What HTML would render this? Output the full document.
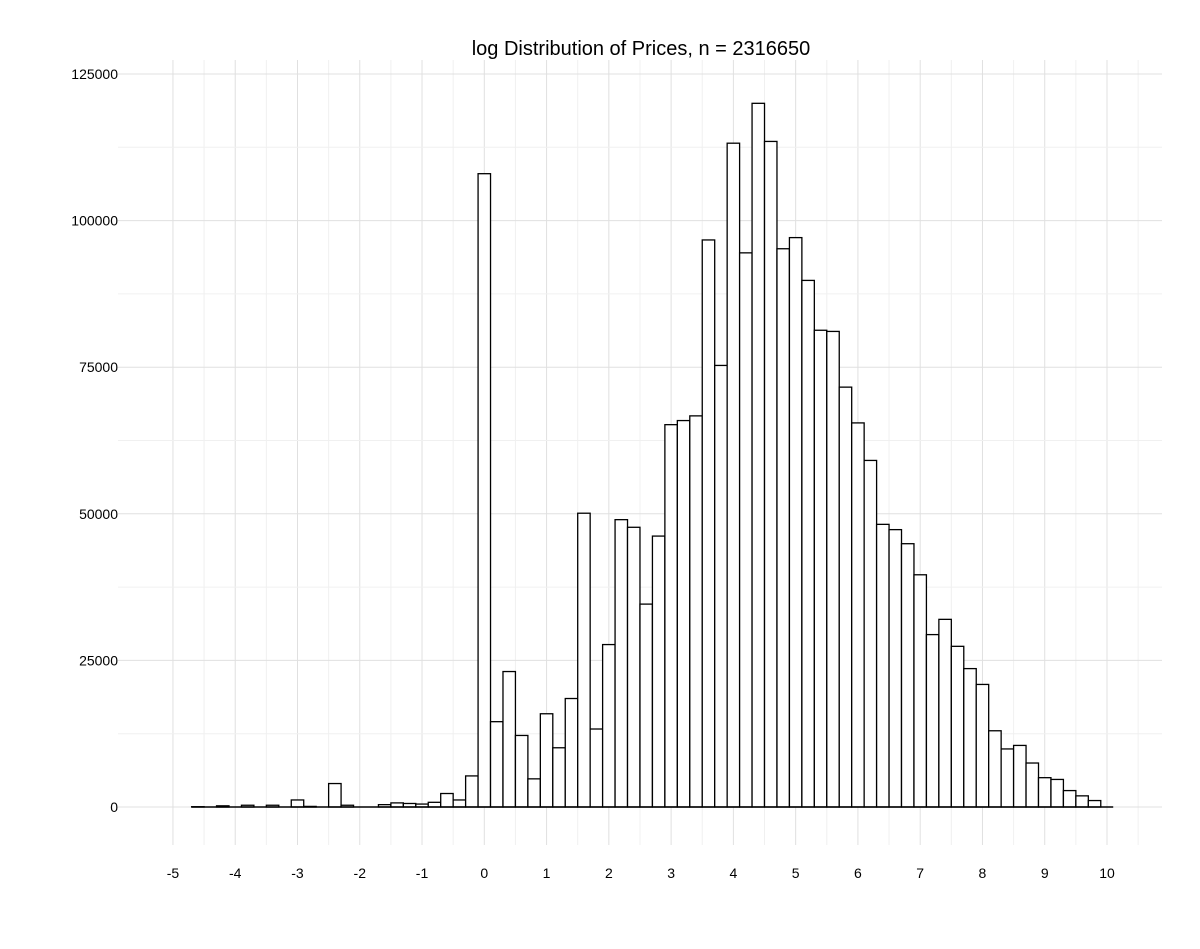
<!DOCTYPE html>
<html><head><meta charset="utf-8"><style>
body{margin:0;background:#fff;}
svg text{font-family:"Liberation Sans",sans-serif;fill:#000;}
</style></head><body>
<svg id="chart" width="1200" height="944" xmlns="http://www.w3.org/2000/svg">
<text x="641" y="55" font-size="20" text-anchor="middle">log Distribution of Prices, n = 2316650</text>
<g id="grid"></g>
<g id="bars"></g>
<g id="xaxis"></g>
<g id="yaxis"></g>
</svg>
<script>
const binCenters=[-4.6,-4.4,-4.2,-4.0,-3.8,-3.6,-3.4,-3.2,-3.0,-2.8,-2.6,-2.4,-2.2,-2.0,-1.8,-1.6,-1.4,-1.2,-1.0,-0.8,-0.6,-0.4,-0.2,0.0,0.2,0.4,0.6,0.8,1.0,1.2,1.4,1.6,1.8,2.0,2.2,2.4,2.6,2.8,3.0,3.2,3.4,3.6,3.8,4.0,4.2,4.4,4.6,4.8,5.0,5.2,5.4,5.6,5.8,6.0,6.2,6.4,6.6,6.8,7.0,7.2,7.4,7.6,7.8,8.0,8.2,8.4,8.6,8.8,9.0,9.2,9.4,9.6,9.8,10.0];
const counts=[50,0,200,0,300,0,300,0,1200,100,0,4000,300,0,0,400,700,600,500,800,2300,1200,5300,108000,14550,23100,12200,4800,15900,10100,18500,50100,13300,27700,49000,47700,34600,46200,65200,65900,66700,96700,75300,113200,94500,120000,113500,95200,97100,89800,81300,81100,71600,65500,59100,48200,47300,44900,39600,29400,32000,27400,23600,20900,13000,9900,10500,7500,5000,4700,2800,1900,1100,0];
const xTicks=[-5,-4,-3,-2,-1,0,1,2,3,4,5,6,7,8,9,10];
const yTicks=[0,25000,50000,75000,100000,125000];
const binWidth=0.2;
const NS="http://www.w3.org/2000/svg";
const X=v=>484.3+62.27*v;
const Y=v=>807-v*0.005864;
function mk(tag,attrs,parent){const e=document.createElementNS(NS,tag);for(const k in attrs)e.setAttribute(k,attrs[k]);parent.appendChild(e);return e;}
const grid=document.getElementById('grid');
for(let v=-5;v<=10.5;v+=0.5){
  const major=Number.isInteger(v);
  const l=mk('line',{x1:X(v),x2:X(v),y1:60,y2:845,stroke:major?'#e0e0e0':'#f0f0f0','stroke-width':1},grid);
  
  
}
for(let v=0;v<=125000;v+=12500){
  const major=v%25000===0;
  const l=mk('line',{x1:118,x2:1162,y1:Y(v),y2:Y(v),stroke:major?'#e0e0e0':'#f0f0f0','stroke-width':1},grid);
  
  
}
const bars=document.getElementById('bars');
binCenters.forEach((c,i)=>{
  const x0=X(c-binWidth/2),x1=X(c+binWidth/2);
  const r=mk('rect',{x:x0,y:Y(counts[i]),width:x1-x0,height:Y(0)-Y(counts[i]),fill:'#fff',stroke:'#000','stroke-width':1.3},bars);
  
  
});
const base=mk('line',{x1:X(binCenters[0]-binWidth/2),x2:X(binCenters[binCenters.length-1]+binWidth/2),y1:Y(0),y2:Y(0),stroke:'#000','stroke-width':1.5},bars);


const xa=document.getElementById('xaxis');
xTicks.forEach(t=>{
  const tx=mk('text',{x:X(t),y:878,'font-size':14,'text-anchor':'middle'},xa);
  tx.textContent=String(t);
  
  
});
const ya=document.getElementById('yaxis');
yTicks.forEach(t=>{
  const tx=mk('text',{x:118,y:Y(t)+5,'font-size':14,'text-anchor':'end'},ya);
  tx.textContent=String(t);
  
  
});
</script>
</body></html>
